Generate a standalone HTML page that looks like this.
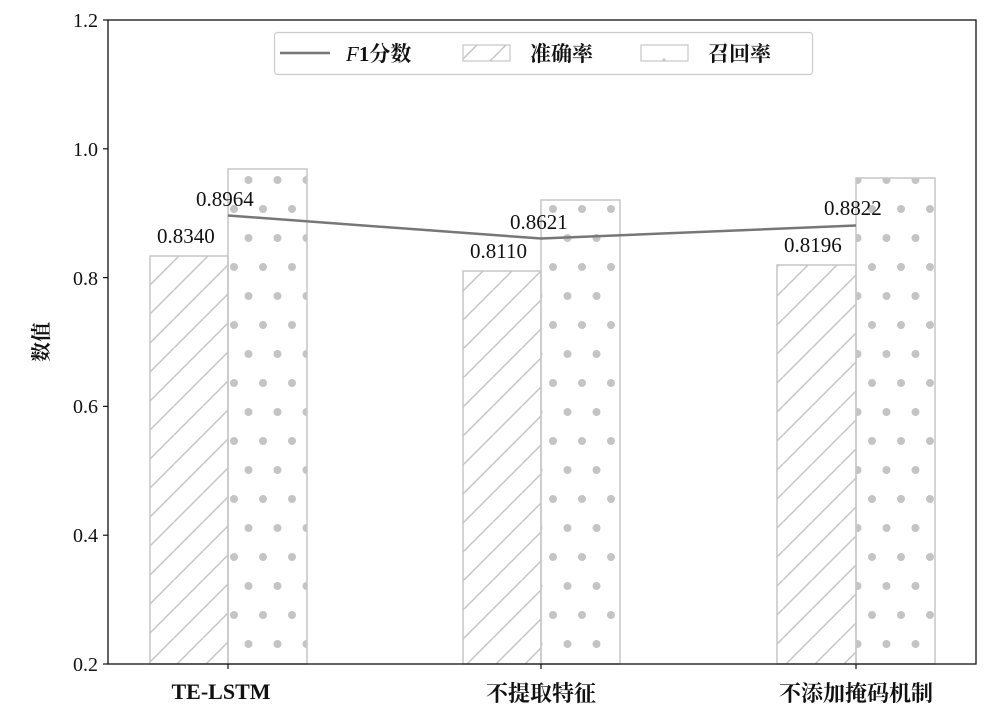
<!DOCTYPE html>
<html><head><meta charset="utf-8"><style>
html,body{margin:0;padding:0;background:#fff;}
svg{display:block;}
text{font-family:"Liberation Serif","Noto Serif CJK SC",serif;fill:#111;}
.cjk{font-family:"Liberation Serif","Noto Serif CJK SC","Noto Sans CJK SC",serif;font-weight:bold;}
</style></head><body>
<svg width="1001" height="724" viewBox="0 0 1001 724" xmlns="http://www.w3.org/2000/svg">
<defs>
<pattern id="hatch" patternUnits="userSpaceOnUse" width="29" height="29">
<line x1="0" y1="29" x2="29" y2="0" stroke="#c4c4c4" stroke-width="1.5"/>
<line x1="-29" y1="29" x2="0" y2="0" stroke="#c4c4c4" stroke-width="1.5"/>
<line x1="29" y1="29" x2="58" y2="0" stroke="#c4c4c4" stroke-width="1.5"/>
</pattern>
<pattern id="dots" patternUnits="userSpaceOnUse" width="29" height="58" x="2" y="6">
<circle cx="14.5" cy="0" r="4" fill="#c4c4c4"/>
<circle cx="14.5" cy="58" r="4" fill="#c4c4c4"/>
<circle cx="0" cy="29" r="4" fill="#c4c4c4"/>
<circle cx="29" cy="29" r="4" fill="#c4c4c4"/>
</pattern>
</defs>
<rect width="1001" height="724" fill="#fff"/>

<rect x="150" y="256" width="78" height="408" fill="url(#hatch)" stroke="#c6c6c6" stroke-width="1.5"/>
<rect x="228" y="169" width="79" height="495" fill="url(#dots)" stroke="#c6c6c6" stroke-width="1.5"/>
<rect x="463" y="271" width="78" height="393" fill="url(#hatch)" stroke="#c6c6c6" stroke-width="1.5"/>
<rect x="541" y="200" width="79" height="464" fill="url(#dots)" stroke="#c6c6c6" stroke-width="1.5"/>
<rect x="777" y="265" width="79" height="399" fill="url(#hatch)" stroke="#c6c6c6" stroke-width="1.5"/>
<rect x="856" y="178" width="79" height="486" fill="url(#dots)" stroke="#c6c6c6" stroke-width="1.5"/>

<polyline points="228,215.5 541,238.5 856,225.5" fill="none" stroke="#777" stroke-width="2.5"/>

<g font-size="21">
<text x="157" y="243">0.8340</text>
<text x="196" y="206">0.8964</text>
<text x="470" y="258">0.8110</text>
<text x="510" y="229">0.8621</text>
<text x="784" y="252">0.8196</text>
<text x="824" y="215">0.8822</text>
</g>

<rect x="108" y="20" width="868" height="644" fill="none" stroke="#111" stroke-width="1.3"/>

<g stroke="#111" stroke-width="1.2">
<line x1="103" y1="20" x2="108" y2="20"/>
<line x1="103" y1="148.8" x2="108" y2="148.8"/>
<line x1="103" y1="277.6" x2="108" y2="277.6"/>
<line x1="103" y1="406.4" x2="108" y2="406.4"/>
<line x1="103" y1="535.2" x2="108" y2="535.2"/>
<line x1="103" y1="664" x2="108" y2="664"/>
<line x1="228" y1="664" x2="228" y2="669"/>
<line x1="541" y1="664" x2="541" y2="669"/>
<line x1="856" y1="664" x2="856" y2="669"/>
</g>
<g font-size="20" text-anchor="end">
<text x="98" y="27">1.2</text>
<text x="98" y="156">1.0</text>
<text x="98" y="285">0.8</text>
<text x="98" y="413">0.6</text>
<text x="98" y="542">0.4</text>
<text x="98" y="671">0.2</text>
</g>
<text class="cjk" font-size="20" transform="translate(48,342) rotate(-90)" text-anchor="middle">数值</text>

<text x="221" y="699" font-size="22" font-weight="bold" text-anchor="middle">TE-LSTM</text>
<text class="cjk" x="541" y="701" font-size="22" text-anchor="middle">不提取特征</text>
<text class="cjk" x="856" y="701" font-size="22" text-anchor="middle">不添加掩码机制</text>

<rect x="274.5" y="32.5" width="538" height="42" rx="3" fill="#fff" stroke="#ccc" stroke-width="1.2"/>
<line x1="280" y1="53" x2="330" y2="53" stroke="#777" stroke-width="2.5"/>
<text x="346" y="61" font-size="21"><tspan font-style="italic">F</tspan><tspan font-weight="bold">1</tspan><tspan class="cjk">分数</tspan></text>
<rect x="463" y="45" width="47" height="16" fill="url(#hatch)" stroke="#c6c6c6" stroke-width="1.2"/>
<text class="cjk" x="530" y="61" font-size="21">准确率</text>
<rect x="641" y="45" width="47" height="16" fill="#fff" stroke="#c6c6c6" stroke-width="1.2"/>
<circle cx="664" cy="60" r="1.5" fill="#c4c4c4"/>
<text class="cjk" x="708" y="61" font-size="21">召回率</text>
</svg>
</body></html>
